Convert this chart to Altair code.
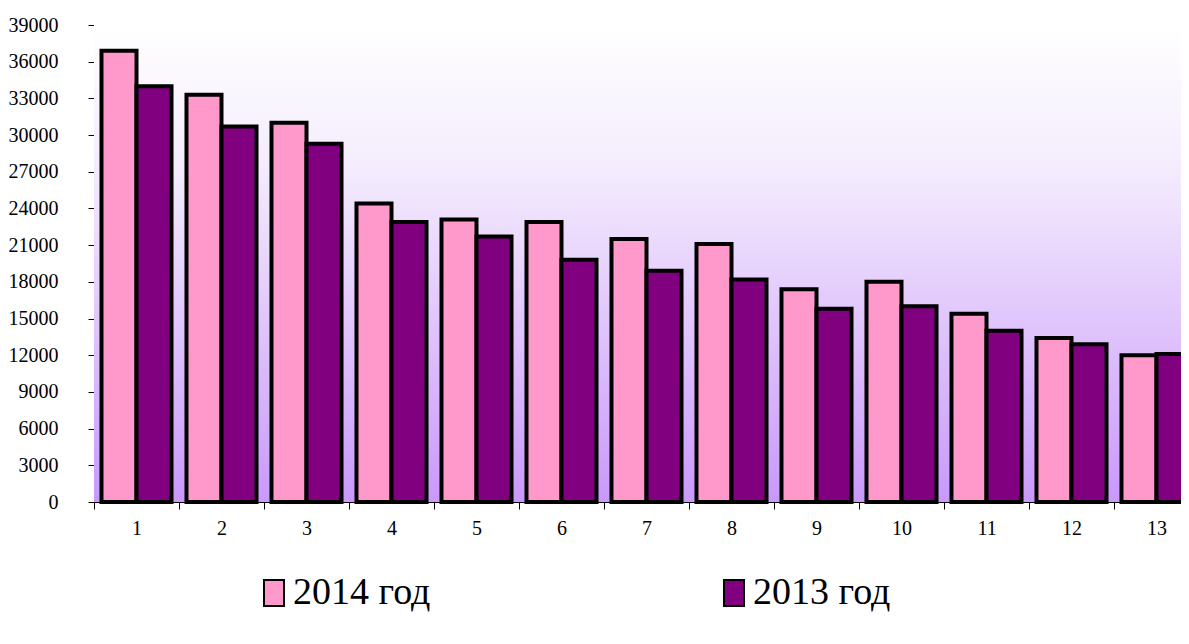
import altair as alt
import pandas as pd

categories = [str(i) for i in range(1, 14)]
values_2014 = [36900, 33300, 31000, 24400, 23100, 22900, 21500, 21100, 17400, 18000, 15400, 13400, 12000]
values_2013 = [34000, 30700, 29300, 22900, 21700, 19800, 18900, 18200, 15800, 16000, 14000, 12900, 12100]
series = ["2014 год", "2013 год"]
colors = ["#ff99cc", "#800080"]
y_ticks = list(range(0, 39001, 3000))

rows = []
for c, a, b in zip(categories, values_2014, values_2013):
    rows.append({"cat": c, "series": series[0], "value": a})
    rows.append({"cat": c, "series": series[1], "value": b})
df = pd.DataFrame(rows)

W, H = 1087, 477
FULL_W = 1105
FONT = "Liberation Serif"

bg = alt.Chart(alt.Data(values=[{}])).mark_rect(
    fill=alt.Gradient(
        gradient="linear",
        stops=[alt.GradientStop(color="#ffffff", offset=0),
               alt.GradientStop(color="#f4ecfd", offset=0.3),
               alt.GradientStop(color="#c999fb", offset=1)],
        x1=0, x2=0, y1=0, y2=1,
    )
).encode(x=alt.value(0), x2=alt.value(FULL_W), y=alt.value(0), y2=alt.value(H))

bars = alt.Chart(df).mark_bar(stroke="black", strokeWidth=4, opacity=1).encode(
    x=alt.X("cat:N", sort=categories, title=None,
            scale=alt.Scale(paddingInner=0, paddingOuter=0, range=[0, FULL_W]),
            axis=alt.Axis(labelAngle=0, labelFont=FONT, labelFontSize=20, labelColor="black",
                          domainColor="black", tickColor="black", tickSize=7,
                          tickOffset=-42.5, labelOffset=42.5, labelPadding=9)),
    xOffset=alt.XOffset("series:N", sort=series,
                        scale=alt.Scale(paddingInner=0, paddingOuter=0.214)),
    y=alt.Y("value:Q", title=None,
            scale=alt.Scale(domain=[0, 39000], nice=False),
            axis=alt.Axis(values=y_ticks, format="d", labelFont=FONT, labelFontSize=20,
                          labelColor="black", domainColor="black", tickColor="black",
                          tickSize=6, labelPadding=30, grid=False)),
    fill=alt.Fill("series:N", sort=series, scale=alt.Scale(domain=series, range=colors),
                  legend=alt.Legend(title=None, orient="none", legendX=161, legendY=549,
                                    direction="horizontal", columns=2, columnPadding=284,
                                    symbolType="M-1,-1.3H1V1.3H-1Z", symbolSize=400,
                                    symbolStrokeColor="black", symbolStrokeWidth=2,
                                    symbolOpacity=1, labelFont=FONT, labelFontSize=38,
                                    labelColor="black", labelOffset=0, padding=0,
                                    labelLimit=400)),
)

chart = alt.layer(bg, bars).properties(
    width=W, height=H,
    autosize=alt.AutoSizeParams(type="none"),
    padding={"left": 86, "top": 17, "right": 0, "bottom": 130},
    background="white",
).configure_view(stroke=None)

chart.save("out.html", embed_options={"renderer": "svg", "actions": False})
